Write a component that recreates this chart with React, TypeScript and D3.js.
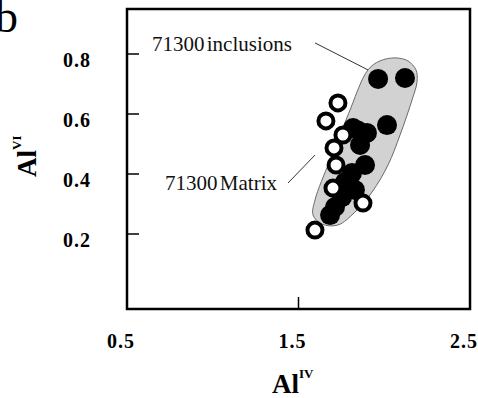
import React from "react";
import * as d3 from "d3";

// Al(IV) vs Al(VI) for sample 71300
const inclusionsAlIV = [1.964, 2.121, 2.016, 1.818, 1.899, 1.859, 1.888, 1.812, 1.771, 1.829, 1.754, 1.713, 1.684];
const inclusionsAlVI = [0.717, 0.72, 0.563, 0.553, 0.537, 0.497, 0.43, 0.403, 0.373, 0.347, 0.323, 0.29, 0.263];

// first matrix point sits beneath the inclusion cluster
const matrixUnderAlIV = [1.847];
const matrixUnderAlVI = [0.547];
const matrixAlIV = [1.73, 1.66, 1.759, 1.707, 1.719, 1.701, 1.876, 1.596];
const matrixAlVI = [0.637, 0.577, 0.53, 0.487, 0.43, 0.353, 0.303, 0.213];

// outline of the inclusions field
const fieldAlIV = [1.905, 1.975, 2.063, 2.138, 2.185, 2.191, 2.162, 2.092, 2.022, 1.929, 1.829, 1.73, 1.637, 1.585, 1.596, 1.684, 1.789];
const fieldAlVI = [0.747, 0.777, 0.787, 0.777, 0.747, 0.707, 0.647, 0.53, 0.43, 0.34, 0.273, 0.23, 0.233, 0.263, 0.313, 0.447, 0.597];

const yTicks = [0.2, 0.4, 0.6, 0.8];
const xTicks = [1.5];
const xTickLabels = [0.5, 1.5, 2.5];

const W = 478;
const H = 398;
const serif = "'Liberation Serif', 'Times New Roman', serif";

export default function App() {
  const x = d3.scaleLinear().domain([0.5, 2.5]).range([127, 470]);
  const y = d3.scaleLinear().domain([-0.05, 0.95]).range([309, 9]);

  const field = d3
    .line<[number, number]>()
    .x((d) => x(d[0]))
    .y((d) => y(d[1]))
    .curve(d3.curveCatmullRomClosed.alpha(0.5))(
    fieldAlIV.map((v, i) => [v, fieldAlVI[i]] as [number, number])
  );

  const fmt = d3.format(".1f");

  return (
    <svg
      width={W}
      height={H}
      style={{ position: "absolute", left: 0, top: 0, display: "block", background: "#fff" }}
      fontFamily={serif}
    >
      <path d={field ?? ""} fill="#d2d2d2" stroke="#6a6a6a" strokeWidth={1} />

      {/* annotation leaders */}
      <line x1={x(1.596)} y1={y(0.837)} x2={x(1.905)} y2={y(0.747)} stroke="#333" strokeWidth={1} />
      <line x1={x(1.439)} y1={y(0.37)} x2={x(1.596)} y2={y(0.463)} stroke="#333" strokeWidth={1} />
      <text x={x(0.646)} y={y(0.81)} fontSize={21} wordSpacing={-3} fill="#111">
        71300 inclusions
      </text>
      <text x={x(0.722)} y={y(0.347)} fontSize={21} wordSpacing={-3} fill="#111">
        71300 Matrix
      </text>

      {matrixUnderAlIV.map((v, i) => (
        <circle key={"mu" + i} cx={x(v)} cy={y(matrixUnderAlVI[i])} r={7.5} fill="#fff" stroke="#000" strokeWidth={4} />
      ))}
      {inclusionsAlIV.map((v, i) => (
        <circle key={"in" + i} cx={x(v)} cy={y(inclusionsAlVI[i])} r={10} fill="#000" />
      ))}
      {matrixAlIV.map((v, i) => (
        <circle key={"m" + i} cx={x(v)} cy={y(matrixAlVI[i])} r={7.5} fill="#fff" stroke="#000" strokeWidth={4} />
      ))}

      {/* frame */}
      <rect x={127} y={9} width={343} height={300} fill="none" stroke="#000" strokeWidth={2.5} />

      {yTicks.map((t) => (
        <g key={"yt" + t}>
          <line x1={127} x2={139} y1={y(t)} y2={y(t)} stroke="#000" strokeWidth={1.5} />
          <text x={91} y={y(t) + 13} textAnchor="end" fontSize={20} fontWeight="bold" letterSpacing={1}>
            {fmt(t)}
          </text>
        </g>
      ))}
      {xTicks.map((t) => (
        <line key={"xt" + t} x1={x(t)} x2={x(t)} y1={309} y2={297} stroke="#000" strokeWidth={1.5} />
      ))}
      {xTickLabels.map((t) => (
        <text key={"xl" + t} x={x(t) - 6} y={348} textAnchor="middle" fontSize={20} fontWeight="bold" letterSpacing={1}>
          {fmt(t)}
        </text>
      ))}

      {/* axis titles */}
      <text x={272} y={393} fontSize={27} fontWeight="bold">
        Al
        <tspan fontSize={13} dy={-15}>IV</tspan>
      </text>
      <text transform="translate(36,177) rotate(-90)" fontSize={27} fontWeight="bold">
        Al
        <tspan fontSize={13} dy={-15}>VI</tspan>
      </text>

      <text x={-5} y={32} fontSize={46}>
        b
      </text>
    </svg>
  );
}
